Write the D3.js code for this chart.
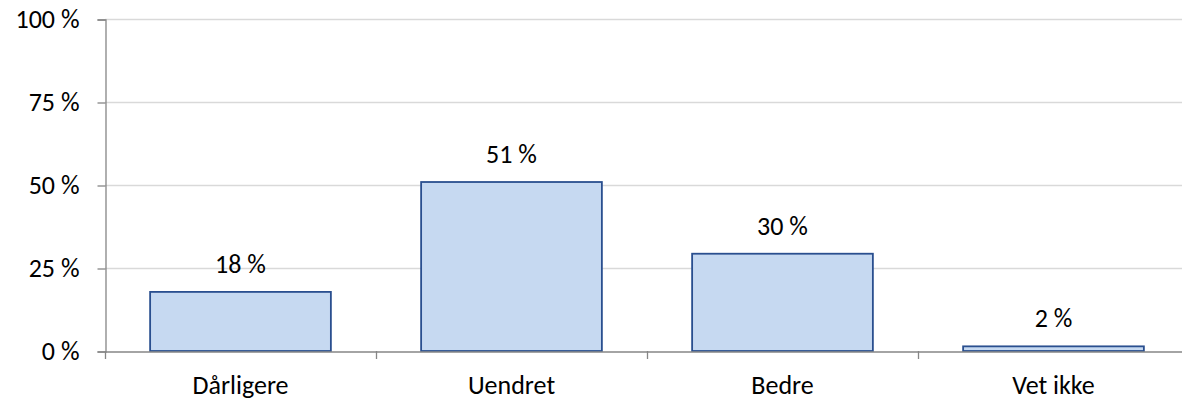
<!DOCTYPE html>
<html>
<head>
<meta charset="utf-8">
<script src="https://cdn.jsdelivr.net/npm/d3@7"></script>
<style>
  body { margin: 0; background: #fff; }
  svg text { font-family: Calibri, Carlito, Lato, sans-serif; fill: #000; }
</style>
</head>
<body>
<svg id="chart" width="1182" height="401"></svg>
<script>
var categories = ["Dårligere", "Uendret", "Bedre", "Vet ikke"];
var values = [17.8, 50.9, 29.3, 1.4];
var labels = ["18 %", "51 %", "30 %", "2 %"];
var yTicks = [0, 25, 50, 75, 100];

var svg = d3.select("#chart");
var margin = {top: 19, left: 105, bottom: 50};
var plotRight = 1189;
var plotBottom = 351;
var fontSize = "26px";

var x = d3.scaleBand()
    .domain(categories)
    .range([margin.left, plotRight])
    .paddingInner(0.333)
    .paddingOuter(0.1665);

var y = d3.scaleLinear()
    .domain([0, 100])
    .range([plotBottom, margin.top]);

// gridlines
svg.selectAll(".grid")
    .data(yTicks.filter(function(d) { return d > 0; }))
    .enter()
    .append("line")
    .attr("x1", margin.left)
    .attr("x2", plotRight)
    .attr("y1", function(d) { return y(d) + 0.5; })
    .attr("y2", function(d) { return y(d) + 0.5; })
    .attr("stroke", "#d9d9d9")
    .attr("stroke-width", 1.5);

// y axis
var yAxis = d3.axisLeft(y)
    .tickValues(yTicks)
    .tickSize(8)
    .tickPadding(18)
    .tickFormat(function(d) { return d + " %"; });

var gy = svg.append("g")
    .attr("transform", "translate(" + (margin.left + 0.5) + ",0.5)")
    .call(yAxis);
gy.select(".domain").attr("stroke", "#868686").attr("stroke-width", 1.3);
gy.selectAll(".tick line").attr("stroke", "#868686").attr("stroke-width", 1.3);
gy.selectAll("text")
    .style("font-size", fontSize)
    .attr("fill", "#000");

// bars
svg.selectAll(".bar")
    .data(values)
    .enter()
    .append("rect")
    .attr("x", function(d, i) { return x(categories[i]); })
    .attr("y", function(d) { return y(d); })
    .attr("width", x.bandwidth())
    .attr("height", function(d) { return y(0) - y(d); })
    .attr("fill", "#c6d9f1")
    .attr("stroke", "#2a4f8f")
    .attr("stroke-width", 1.8);

// x axis
var xAxis = d3.axisBottom(x).tickSize(0).tickPadding(24);
var gx = svg.append("g")
    .attr("transform", "translate(0," + (plotBottom + 0.5) + ")")
    .call(xAxis);
gx.select(".domain").attr("stroke", "#868686").attr("stroke-width", 1.3);
gx.selectAll("text").style("font-size", fontSize).attr("fill", "#000");

// category boundary ticks
var bounds = d3.range(categories.length + 1).map(function(i) { return margin.left + i * x.step(); });
svg.selectAll(".xb")
    .data(bounds)
    .enter()
    .append("line")
    .attr("x1", function(d) { return d + 0.5; })
    .attr("x2", function(d) { return d + 0.5; })
    .attr("y1", plotBottom)
    .attr("y2", plotBottom + 8)
    .attr("stroke", "#868686")
    .attr("stroke-width", 1.3);

// value labels
svg.selectAll(".vlabel")
    .data(values)
    .enter()
    .append("text")
    .attr("x", function(d, i) { return x(categories[i]) + x.bandwidth() / 2; })
    .attr("y", function(d) { return y(d) - 19; })
    .attr("text-anchor", "middle")
    .style("font-size", fontSize)
    .text(function(d, i) { return labels[i]; });
</script>
</body>
</html>
